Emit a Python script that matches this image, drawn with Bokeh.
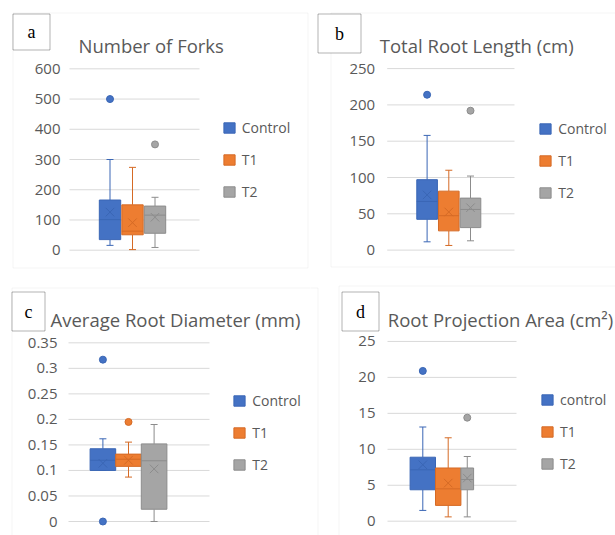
from bokeh.plotting import figure
from bokeh.layouts import column, row
from bokeh.models import (Range1d, FixedTicker, Label, BoxAnnotation, Legend,
                          LegendItem, ColumnDataSource)
from bokeh.embed import file_html
from bokeh.resources import INLINE

# ---------------- data ----------------
series_abc = ["Control", "T1", "T2"]
series_d = ["control", "T1", "T2"]

# (a) Number of Forks
forks_low = [16, 2, 9]
forks_q1 = [35, 51, 56]
forks_median = [101, 63, 116]
forks_q3 = [166, 150, 146]
forks_high = [300, 274, 175]
forks_mean = [126, 91, 109]
forks_outlier_series = [0, 2]
forks_outlier_values = [500, 350]
forks_ticks = [0, 100, 200, 300, 400, 500, 600]
forks_tick_labels = ["0", "100", "200", "300", "400", "500", "600"]

# (b) Total Root Length (cm)
length_low = [11.4, 6.4, 12.8]
length_q1 = [42.4, 26.5, 31]
length_median = [67, 47.4, 56]
length_q3 = [97, 81.2, 71.6]
length_high = [158, 110, 102]
length_mean = [76, 52.5, 58.4]
length_outlier_series = [0, 2]
length_outlier_values = [214, 192]
length_ticks = [0, 50, 100, 150, 200, 250]
length_tick_labels = ["0", "50", "100", "150", "200", "250"]

# (c) Average Root Diameter (mm)
diam_low = [0.1, 0.087, 0.0]
diam_q1 = [0.1, 0.108, 0.024]
diam_median = [0.12, 0.122, 0.119]
diam_q3 = [0.1425, 0.132, 0.152]
diam_high = [0.162, 0.1555, 0.19]
diam_mean = [0.114, 0.12, 0.103]
diam_outlier_series = [0, 0, 1]
diam_outlier_values = [0.317, 0.0, 0.195]
diam_ticks = [0, 0.05, 0.1, 0.15, 0.2, 0.25, 0.3, 0.35]
diam_tick_labels = ["0", "0.05", "0.1", "0.15", "0.2", "0.25", "0.3", "0.35"]

# (d) Root Projection Area (cm2)
area_low = [1.5, 0.6, 0.6]
area_q1 = [4.37, 2.2, 4.37]
area_median = [7.15, 4.5, 5.8]
area_q3 = [8.9, 7.4, 7.4]
area_high = [13.1, 11.6, 9.0]
area_mean = [7.85, 5.3, 6.0]
area_outlier_series = [0, 2]
area_outlier_values = [20.9, 14.4]
area_ticks = [0, 5, 10, 15, 20, 25]
area_tick_labels = ["0", "5", "10", "15", "20", "25"]

# ---------------- style ----------------
FILL = ["#4472C4", "#ED7D31", "#A5A5A5"]
EDGE = ["#3A66B5", "#D56A25", "#8C8C8C"]
TEXT = "#595959"
GRID = "#D9D9D9"
FONT = "Open Sans"
SERIF = "Liberation Serif"


def canvas_box(l, r, t, b, **kw):
    return BoxAnnotation(left=l, right=r, top=t, bottom=b,
                         left_units="canvas", right_units="canvas",
                         top_units="canvas", bottom_units="canvas", **kw)


def make_panel(letter, title, names, low, q1, med, q3, high, mean,
               out_s, out_v, ticks, tick_labels, G):
    w, h = G["size"]
    spx, cx1 = G["xscale"]          # px per category step, pixel centre of slot 1
    y0, spy = G["yscale"]           # pixel of value 0, px per unit
    gl, gr = G["plot_x"]            # pixel extent of the plotting area
    xr = (1 - cx1 / spx, 1 + (w - cx1) / spx)
    yr = ((y0 - h) / spy, y0 / spy)
    to_x = lambda px: 1 + (px - cx1) / spx

    p = figure(width=w, height=h, output_backend="svg", toolbar_location=None,
               tools="", title=None, x_range=Range1d(*xr), y_range=Range1d(*yr),
               x_axis_location=None, y_axis_location="left",
               min_border=0, min_border_left=0, min_border_right=0,
               min_border_top=0, min_border_bottom=0)
    p.background_fill_color = "white"
    p.border_fill_color = "white"
    p.outline_line_color = None
    p.xgrid.visible = False
    p.ygrid.visible = False

    ticker = FixedTicker(ticks=ticks)
    ax = p.yaxis[0]
    ax.ticker = ticker
    ax.fixed_location = to_x(gl)
    ax.major_label_overrides = {t: s for t, s in zip(ticks, tick_labels)}
    ax.axis_line_color = None
    ax.major_tick_line_color = None
    ax.minor_tick_line_color = None
    ax.major_tick_out = 0
    ax.major_tick_in = 0
    ax.major_label_standoff = G["standoff"]
    ax.major_label_text_font = FONT
    ax.major_label_text_font_size = "15px"
    ax.major_label_text_color = TEXT

    # chart-area borders, letter box, letter, title
    for (bl, br, bt, bb) in G["borders"]:
        p.add_layout(canvas_box(bl, br, bt, bb, fill_alpha=0,
                                line_color=GRID, line_width=1))
    l, r, t, b = G["letter_box"]
    p.add_layout(canvas_box(l, r, t, b, fill_color="white", fill_alpha=1,
                            line_color="black", line_width=1))
    p.add_layout(Label(x=(l + r) / 2, y=(t + b) / 2, x_units="canvas", y_units="canvas",
                       text=letter, text_font=SERIF, text_font_size="18px",
                       text_color="black", text_align="center", text_baseline="middle"))
    tx, ty = G["title"]
    p.add_layout(Label(x=tx, y=ty, x_units="canvas", y_units="canvas", text=title,
                       text_font=FONT, text_font_size="18.5px", text_color=TEXT,
                       text_align="left", text_baseline="alphabetic"))

    # horizontal gridlines at the tick values, across the plotting area
    gsrc = ColumnDataSource(dict(y=ticks, x0=[to_x(gl)] * len(ticks),
                                 x1=[to_x(gr)] * len(ticks)))
    p.segment(x0="x0", y0="y", x1="x1", y1="y", source=gsrc,
              line_color=GRID, line_width=1)

    pos = G["pos"]
    wid = G["wid"]
    rends = []
    for i in range(3):
        x = pos[i]
        bw = wid[i]
        src = ColumnDataSource(dict(x=[x], left=[x - bw / 2], right=[x + bw / 2],
                                    low=[low[i]], q1=[q1[i]], med=[med[i]],
                                    q3=[q3[i]], high=[high[i]], mean=[mean[i]]))
        p.segment(x0="x", y0="q3", x1="x", y1="high", source=src,
                  line_color=EDGE[i], line_width=1)
        p.segment(x0="x", y0="low", x1="x", y1="q1", source=src,
                  line_color=EDGE[i], line_width=1)
        p.scatter(x="x", y="high", marker="dash", size=7, source=src,
                  line_color=EDGE[i], line_width=1)
        p.scatter(x="x", y="low", marker="dash", size=7, source=src,
                  line_color=EDGE[i], line_width=1)
        r_ = p.vbar(x="x", width=bw, bottom="q1", top="q3", source=src,
                    fill_color=FILL[i], line_color=EDGE[i], line_width=1)
        p.segment(x0="left", y0="med", x1="right", y1="med", source=src,
                  line_color=EDGE[i], line_width=1)
        p.scatter(x="x", y="mean", marker="x", size=12, source=src,
                  line_color=EDGE[i], line_width=1)
        rends.append(r_)

    osrc = ColumnDataSource(dict(x=[pos[s] for s in out_s], y=out_v,
                                 fc=[FILL[s] for s in out_s],
                                 lc=[EDGE[s] for s in out_s]))
    p.scatter(x="x", y="y", marker="circle", size=7, source=osrc,
              fill_color="fc", line_color="lc", line_width=1)

    # legend (frame == whole canvas, location measured from bottom-left)
    sx, sy = G["legend"]          # swatch top-left (canvas)
    gw, gh, sp, item_h = 14, 13, 13, 19
    H = 3 * item_h + 2 * sp
    leg = Legend(items=[LegendItem(label=names[i], renderers=[rends[i]]) for i in range(3)],
                 location=(sx, h - (sy - (item_h - gh) / 2) - H),
                 padding=0, margin=0, spacing=sp, glyph_width=gw, glyph_height=gh,
                 label_height=gh, label_standoff=6,
                 label_text_font=FONT, label_text_font_size="14px",
                 label_text_color=TEXT, border_line_color=None,
                 background_fill_alpha=0)
    p.add_layout(leg, "center")
    return p


GA = dict(size=(310, 280), xscale=(22.5, 132), yscale=(249.7, 0.3023),
          plot_x=(69, 199), pos=[0, 1, 2], wid=[0.95, 0.95, 0.95], standoff=9,
          borders=[(12.5, 307.5, 12.5, 267.5)], letter_box=(12.5, 49.5, 13.5, 49.5),
          title=(78, 45), legend=(221.7, 120.7))
GB = dict(size=(305, 280), xscale=(21.7, 138.3), yscale=(249.6, 0.726),
          plot_x=(76.7, 204), pos=[0, 1, 2], wid=[0.95, 0.95, 0.95], standoff=12,
          borders=[(20.5, 400, 12.5, 266.5)], letter_box=(7.5, 50.5, 13.5, 52.5),
          title=(69.3, 45), legend=(228.3, 121.7))
GC = dict(size=(310, 255), xscale=(25.6, 128), yscale=(241, 510.5),
          plot_x=(68, 209), pos=[0, 1, 2], wid=[1.0, 1.0, 1.0], standoff=11,
          borders=[(11.5, 400, 7.5, 400)], letter_box=(11.5, 44.5, 11.5, 50.5),
          title=(50, 39.3), legend=(232.3, 114.3))
GD = dict(size=(305, 255), xscale=(25.4, 137.7), yscale=(240.7, 7.19),
          plot_x=(77, 206), pos=[0, 1, 1.75], wid=[1.0, 1.0, 0.5], standoff=12,
          borders=[(28.5, 400, 5.5, 400), (-400, 7.5, 7.5, 400)],
          letter_box=(31.5, 68.5, 11.5, 50.5),
          title=(77.3, 39.3), legend=(230, 113.3))

pa = make_panel("a", "Number of Forks", series_abc, forks_low, forks_q1, forks_median,
                forks_q3, forks_high, forks_mean, forks_outlier_series,
                forks_outlier_values, forks_ticks, forks_tick_labels, GA)
pb = make_panel("b", "Total Root Length (cm)", series_abc, length_low, length_q1,
                length_median, length_q3, length_high, length_mean,
                length_outlier_series, length_outlier_values, length_ticks,
                length_tick_labels, GB)
pc = make_panel("c", "Average Root Diameter (mm)", series_abc, diam_low, diam_q1,
                diam_median, diam_q3, diam_high, diam_mean, diam_outlier_series,
                diam_outlier_values, diam_ticks, diam_tick_labels, GC)
pd_ = make_panel("d", "Root Projection Area (cm\u00b2)", series_d, area_low, area_q1,
                 area_median, area_q3, area_high, area_mean, area_outlier_series,
                 area_outlier_values, area_ticks, area_tick_labels, GD)

layout = column(row(pa, pb, spacing=0), row(pc, pd_, spacing=0), spacing=0)
open("out.html", "w").write(file_html(layout, INLINE))
